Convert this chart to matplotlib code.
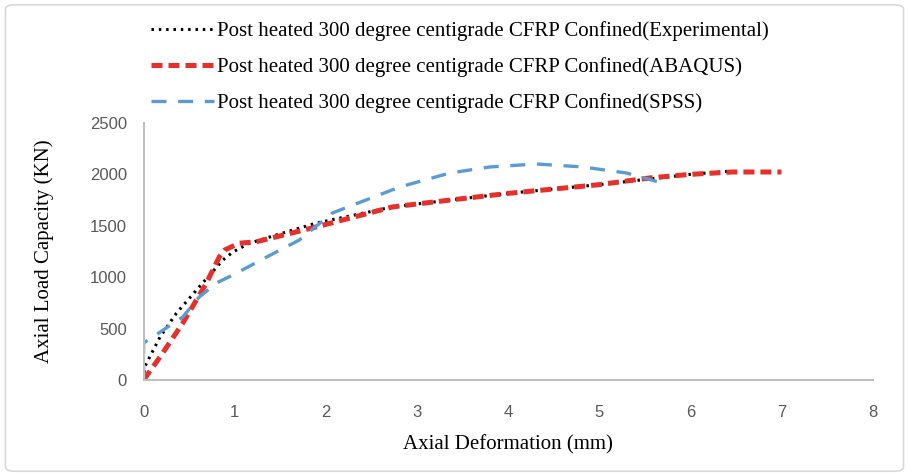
import matplotlib.pyplot as plt
from matplotlib.patches import FancyBboxPatch

# Axial deformation (mm) vs axial load (KN)
exp_x = [0.0, 0.01, 0.18, 0.36, 0.61, 0.87, 0.98, 1.16, 1.53, 1.9, 2.73, 3.36, 4.0, 5.0, 5.6, 6.0, 6.46]
exp_y = [0, 126, 418, 650, 905, 1167, 1245, 1330, 1430, 1527, 1683, 1750, 1815, 1900, 1960, 2000, 2033]

aba_x = [0.0, 0.18, 0.43, 0.69, 0.83, 0.89, 1.05, 1.24, 1.9, 2.73, 3.36, 4.0, 5.0, 5.55, 6.0, 6.46, 7.0]
aba_y = [0, 224, 554, 944, 1196, 1265, 1330, 1345, 1490, 1683, 1750, 1815, 1900, 1965, 2000, 2023, 2023]

spss_x = [0.0, 0.0, 0.1, 0.43, 0.61, 0.8, 0.98, 1.35, 1.71, 2.07, 2.81, 3.36, 3.8, 4.31, 4.82, 5.3, 5.69]
spss_y = [0, 360, 418, 613, 807, 944, 1021, 1196, 1362, 1624, 1877, 2013, 2072, 2101, 2072, 2013, 1916]

labels = ["Post heated 300 degree centigrade CFRP Confined(Experimental)",
          "Post heated 300 degree centigrade CFRP Confined(ABAQUS)",
          "Post heated 300 degree centigrade CFRP Confined(SPSS)"]

fig = plt.figure(figsize=(9.09, 4.76), dpi=100)
ax = fig.add_axes([0.158, 0.2017, 0.802, 0.54])

ax.plot(exp_x, exp_y, color="black", lw=2.2, linestyle=(0, (0.8, 1.6)), label=labels[0])
ax.plot(aba_x, aba_y, color="#e8302a", lw=3.6, linestyle=(0, (2.2, 1.2)), label=labels[1])
ax.plot(spss_x, spss_y, color="#5b9bd5", lw=2.4, linestyle=(0, (4.5, 3.5)), label=labels[2])

ax.set_xlim(0, 8)
ax.set_ylim(0, 2500)
ax.set_xticks(range(0, 9))
ax.set_yticks(range(0, 2501, 500))
for s in ["top", "right"]:
    ax.spines[s].set_visible(False)
for s in ["left", "bottom"]:
    ax.spines[s].set_color("#bfbfbf")
    ax.spines[s].set_linewidth(1.5)
ax.tick_params(axis="y", length=0, labelsize=12, colors="#595959", pad=12)
ax.tick_params(axis="x", length=0, labelsize=12, colors="#595959", pad=18)
for t in ax.get_xticklabels() + ax.get_yticklabels():
    t.set_fontfamily("Liberation Sans")

ax.set_xlabel("Axial Deformation (mm)", fontsize=15, family="Liberation Serif", labelpad=11)
ax.set_ylabel("Axial Load Capacity (KN)", fontsize=15, family="Liberation Serif", labelpad=26)

leg = fig.legend(loc="upper left", bbox_to_anchor=(0.146, 0.995), frameon=False,
                 prop={"family": "Liberation Serif", "size": 15},
                 handlelength=3.0, handletextpad=0.15, labelspacing=0.78)

border = FancyBboxPatch((0.006, 0.01), 0.988, 0.98, boxstyle="round,pad=0,rounding_size=0.01",
                        transform=fig.transFigure, fill=False, edgecolor="#d9d9d9", lw=1.2)
fig.patches.append(border)

fig.savefig("out.png", dpi=100)
